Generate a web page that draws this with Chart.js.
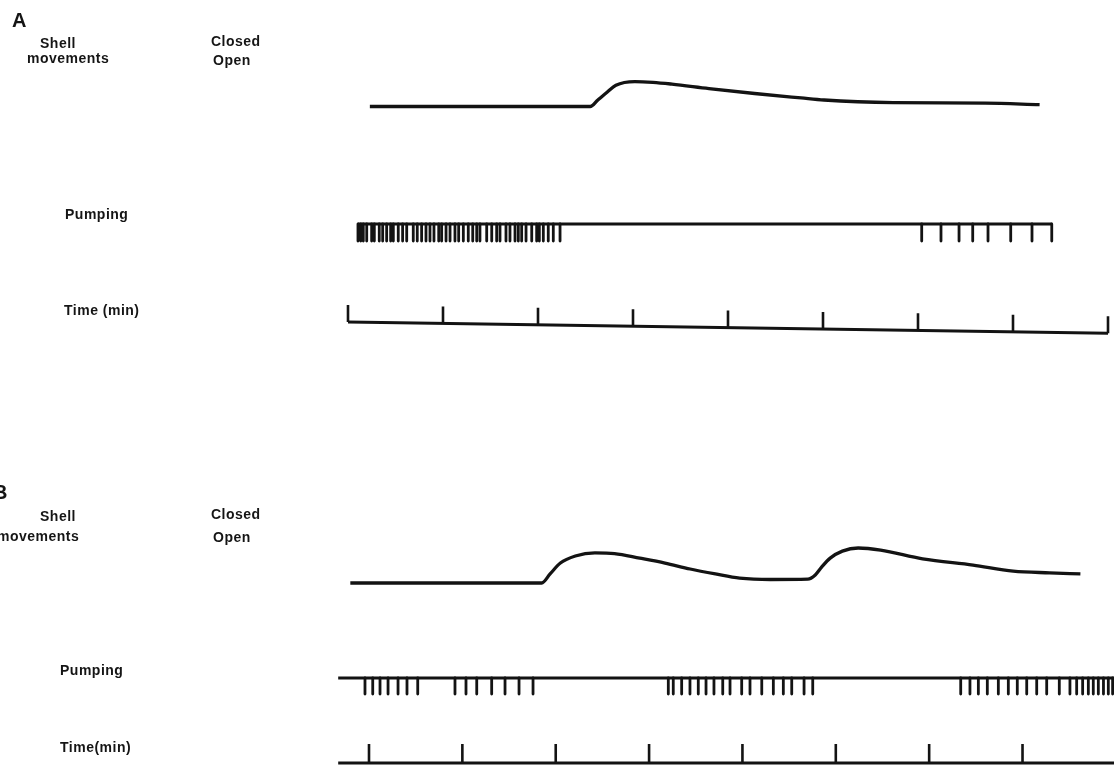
<!DOCTYPE html>
<html>
<head>
<meta charset="utf-8">
<script src="https://cdn.jsdelivr.net/npm/chart.js@4.4.1/dist/chart.umd.min.js"></script>
<style>
html,body{margin:0;padding:0;background:#fff;}
#wrap{position:relative;width:1114px;height:767px;overflow:hidden;background:#fff;}
#c{position:absolute;left:0;top:0;}
.lbl{position:absolute;font-family:"Liberation Sans",Arial,Helvetica,sans-serif;font-weight:bold;font-size:14px;letter-spacing:0.5px;line-height:16px;color:#151515;white-space:nowrap;transform:translateY(-50%);}
.panel{font-size:20px;line-height:22px;letter-spacing:0;}
</style>
</head>
<body>
<div id="wrap">
<canvas id="c" width="1114" height="767"></canvas>
<div class="lbl panel" style="left:12px;top:20px;">A</div>
<div class="lbl" style="left:40px;top:43px;">Shell</div>
<div class="lbl" style="left:27px;top:58px;">movements</div>
<div class="lbl" style="left:211px;top:41px;">Closed</div>
<div class="lbl" style="left:213px;top:60px;">Open</div>
<div class="lbl" style="left:65px;top:214px;">Pumping</div>
<div class="lbl" style="left:64px;top:310px;">Time (min)</div>

<div class="lbl panel" style="left:-7px;top:492px;">B</div>
<div class="lbl" style="left:40px;top:516px;">Shell</div>
<div class="lbl" style="left:-3px;top:536px;">movements</div>
<div class="lbl" style="left:211px;top:514px;">Closed</div>
<div class="lbl" style="left:213px;top:537px;">Open</div>
<div class="lbl" style="left:60px;top:670px;">Pumping</div>
<div class="lbl" style="left:60px;top:747px;">Time(min)</div>
</div>
<script>
// ---------------- DATA (time in minutes) ----------------
// Panel A – shell closure trace (0 = open baseline, 1 = peak closure)
const shellA_t = [0.23, 2.55, 2.63, 2.73, 2.82, 3.02, 3.21, 3.41, 3.80, 4.28, 4.77, 5.01, 5.74, 6.71, 7.28];
const shellA_v = [0.00, 0.00, 0.25, 0.56, 0.82, 0.96, 0.93, 0.86, 0.69, 0.50, 0.33, 0.25, 0.15, 0.13, 0.07];
// Panel A – pumping beats
const pumpA_beats = [0.105, 0.134, 0.161, 0.197, 0.249, 0.277, 0.329, 0.365, 0.407, 0.449, 0.477, 0.529, 0.575, 0.618,
  0.687, 0.729, 0.775, 0.821, 0.863, 0.905, 0.955, 0.986, 1.032, 1.074, 1.126, 1.165, 1.214, 1.266, 1.313,
  1.355, 1.389, 1.460, 1.513, 1.565, 1.600, 1.663, 1.705, 1.758, 1.793, 1.828, 1.874, 1.934, 1.986, 2.014,
  2.056, 2.108, 2.161, 2.232,
  6.039, 6.242, 6.432, 6.576, 6.737, 6.976, 7.200, 7.408];
const pumpA_span = [0.105, 7.408];
// Panel A – time marks
const timeA_ticks = [0, 1, 2, 3, 4, 5, 6, 7, 8];
const timeA_span = [0, 8];

// Panel B – shell closure trace
const shellB_t = [-0.20, 1.85, 1.94, 2.05, 2.21, 2.42, 2.63, 2.90, 3.17, 3.44, 3.71, 3.97, 4.30, 4.70, 4.78, 4.85, 4.94, 5.07, 5.24, 5.48, 5.93, 6.47, 6.90, 7.29, 7.62];
const shellB_v = [0.00, 0.00, 0.26, 0.57, 0.77, 0.86, 0.84, 0.71, 0.57, 0.40, 0.26, 0.14, 0.10, 0.11, 0.23, 0.46, 0.71, 0.91, 1.00, 0.94, 0.69, 0.51, 0.34, 0.29, 0.26];
// Panel B – pumping beats
const pumpB_beats = [-0.043, 0.040, 0.118, 0.204, 0.311, 0.407, 0.522,
  0.921, 1.039, 1.154, 1.314, 1.457, 1.607, 1.757,
  3.206, 3.259, 3.349, 3.438, 3.527, 3.610, 3.695, 3.789, 3.867, 3.992, 4.081, 4.207, 4.331, 4.438, 4.528, 4.660, 4.753,
  6.338, 6.437, 6.527, 6.623, 6.741, 6.848, 6.944, 7.045, 7.152, 7.259, 7.394, 7.508, 7.580, 7.644, 7.705, 7.758, 7.812, 7.867, 7.919, 7.965];
const pumpB_span = [-0.33, 8.1];
// Panel B – time marks
const timeB_ticks = [0, 1, 2, 3, 4, 5, 6, 7];
const timeB_span = [-0.33, 8.1];

// ---------------- LAYOUT / STYLE ----------------
const W = 1114, H = 767;
const INK = '#131313';
// x axis: pixel of minute 0 and pixels per minute
function xRange(p0, k){ return {min: -p0 / k, max: (W - p0) / k}; }
// y axis: pixel of value 0 and pixels per unit (upwards)
function yRange(p0, k){ return {min: -(H - p0) / k, max: p0 / k}; }
const TIME_A_SKEW = 0.082; // slight slant of the recorded time base in panel A (units/min)

function trace(ts, vs){ return ts.map((t, i) => ({x: t, y: vs[i]})); }
function beats(list, depth){
  const d = [];
  list.forEach(t => { d.push({x: t, y: 0}, {x: t, y: -depth}, {x: t, y: null}); });
  return d;
}
function span(s, f){ return [{x: s[0], y: f ? f(s[0]) : 0}, {x: s[1], y: f ? f(s[1]) : 0}]; }
function marks(list, f){
  const d = [];
  list.forEach(t => { const b = f ? f(t) : 0; d.push({x: t, y: b}, {x: t, y: b + 1}, {x: t, y: null}); });
  return d;
}
const skewA = t => -TIME_A_SKEW * t;

function ds(data, xID, yID, width, smooth){
  return {data, xAxisID: xID, yAxisID: yID, borderColor: INK, borderWidth: width,
    pointRadius: 0, fill: false, spanGaps: false, borderCapStyle: 'butt', borderJoinStyle: 'round',
    tension: smooth ? 0.4 : 0, cubicInterpolationMode: smooth ? 'monotone' : 'default'};
}

const datasets = [
  ds(trace(shellA_t, shellA_v), 'xA', 'yShellA', 3.3, true),
  ds(span(pumpA_span), 'xA', 'yPumpA', 3, false),
  ds(beats(pumpA_beats, 1), 'xA', 'yPumpA', 2.8, false),
  ds(span(timeA_span, skewA), 'xA', 'yTimeA', 3, false),
  ds(marks(timeA_ticks, skewA), 'xA', 'yTimeA', 2.6, false),

  ds(trace(shellB_t, shellB_v), 'xB', 'yShellB', 3.3, true),
  ds(span(pumpB_span), 'xB', 'yPumpB', 3, false),
  ds(beats(pumpB_beats, 1), 'xB', 'yPumpB', 2.8, false),
  ds(span(timeB_span), 'xB', 'yTimeB', 3, false),
  ds(marks(timeB_ticks), 'xB', 'yTimeB', 2.6, false)
];

function sc(axis, r){ return Object.assign({type: 'linear', axis, display: false}, r); }

new Chart(document.getElementById('c'), {
  type: 'line',
  data: {datasets},
  options: {
    responsive: false,
    animation: false,
    devicePixelRatio: 1,
    layout: {padding: 0},
    plugins: {legend: {display: false}, tooltip: {enabled: false}},
    scales: {
      xA: sc('x', xRange(348, 95)),
      xB: sc('x', xRange(369, 93.36)),
      yShellA: sc('y', yRange(106.5, 26)),
      yPumpA: sc('y', yRange(224, 17)),
      yTimeA: sc('y', yRange(322, 17)),
      yShellB: sc('y', yRange(583, 35)),
      yPumpB: sc('y', yRange(678, 16)),
      yTimeB: sc('y', yRange(763, 19))
    }
  }
});
</script>
</body>
</html>
